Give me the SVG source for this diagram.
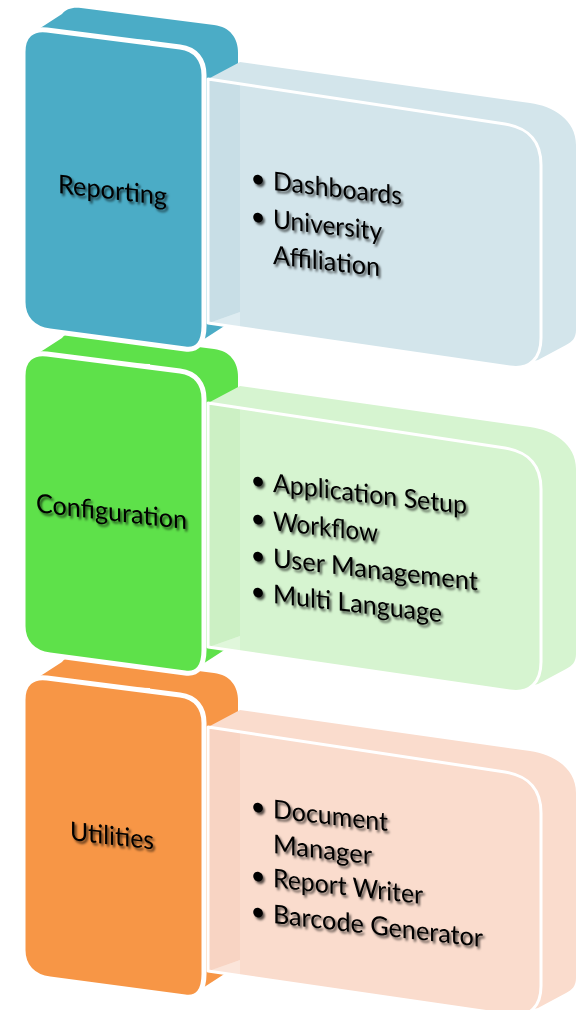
<svg xmlns="http://www.w3.org/2000/svg" xmlns:xlink="http://www.w3.org/1999/xlink" width="587" height="1010" viewBox="0 0 587 1010">
<style>
.t{font-family:Lato,"Liberation Sans",sans-serif;font-size:26px;fill:#000;}
.b{font-family:Lato,"Liberation Sans",sans-serif;font-size:26px;fill:#000;text-anchor:middle;}
.front{stroke:#fff;stroke-width:5;stroke-linejoin:round;}
.rf{stroke:#fff;stroke-width:3;stroke-linejoin:round;}
</style>
<defs>
<filter id="sh" x="-10%" y="-30%" width="130%" height="180%">
<feDropShadow dx="2" dy="2.5" stdDeviation="1.3" flood-color="#000" flood-opacity="0.65"/>
</filter>
<path id="lsil" d="M28,36 L62,14 C66,9 72,7 81,8 L214,25 C230,27 238,38 238,53 L238,304 C238,314 235,320 229,323 L195,345 L150,340 L150,40 Z"/>
<path id="lfront" d="M23,52 C23,36 32,28 47,30 L180,47 C196,49 204,60 204,75 L204,326 C204,342 198,351 185,349 L50,331 C33,329 23,318 23,302 Z"/>
<path id="rsil" d="M208,79 L240,62 L530,103 C553,106 576,120 576,145 L576,330 C576,338 572,342 566,345 L538,360 L510,367 L208,323 Z"/>
<path id="rfront" d="M208,79 L505,124 C528,128 541,140 541,165 L541,338 C541,358 530,370 510,367 L208,323 Z"/>
<path id="rstrip" d="M209,80 L240,84 L240,312 L209,323 Z"/>
<path id="rtri" d="M209,323 L240,312 L240,327 Z"/>
</defs>
<rect width="587" height="1010" fill="#fff"/>
<g id="connectors"/>

<!-- Row 3: Utilities -->
<g id="utilities" transform="translate(0,648)">
<use xlink:href="#lsil" fill="#F79646"/>
</g>
<g id="utilities-details" transform="translate(0,648)">
<use xlink:href="#rsil" fill="#FADCCD"/>
<use xlink:href="#rfront" fill="#FADCCD"/>
<use xlink:href="#rstrip" fill="#F8D4C3"/>
<use xlink:href="#rtri" fill="#FBE5DA"/>
<use xlink:href="#rfront" class="rf" fill="none"/>
</g>
<g id="utilities-front">
<use xlink:href="#lfront" class="front" fill="#F79646" transform="translate(0,648)"/>
<g filter="url(#sh)">
<text class="t" transform="translate(70,840) skewY(6.5)" textLength="84" lengthAdjust="spacingAndGlyphs">Utilities</text>
</g>
</g>
<g id="utilities-items" filter="url(#sh)">
<g transform="translate(273,818) skewY(6.5)"><text class="b" x="-15" y="-1">•</text><text class="t" textLength="115" lengthAdjust="spacingAndGlyphs">Document</text></g>
<g transform="translate(273,853) skewY(6.5)"><text class="t" textLength="99" lengthAdjust="spacingAndGlyphs">Manager</text></g>
<g transform="translate(273,887) skewY(6.5)"><text class="b" x="-15" y="-1">•</text><text class="t" textLength="150" lengthAdjust="spacingAndGlyphs">Report Writer</text></g>
<g transform="translate(273,923) skewY(6.5)"><text class="b" x="-15" y="-1">•</text><text class="t" textLength="210" lengthAdjust="spacingAndGlyphs">Barcode Generator</text></g>
</g>

<!-- Row 2: Configuration -->
<g id="configuration" transform="translate(0,324)">
<use xlink:href="#lsil" fill="#5EE14A"/>
</g>
<g id="configuration-details" transform="translate(0,324)">
<use xlink:href="#rsil" fill="#D6F4D0"/>
<use xlink:href="#rfront" fill="#D6F4D0"/>
<use xlink:href="#rstrip" fill="#CCF0C4"/>
<use xlink:href="#rtri" fill="#E0F7DB"/>
<use xlink:href="#rfront" class="rf" fill="none"/>
</g>
<g id="configuration-front">
<use xlink:href="#lfront" class="front" fill="#5EE14A" transform="translate(0,324)"/>
<g filter="url(#sh)">
<text class="t" transform="translate(36,512) skewY(6.5)" textLength="151" lengthAdjust="spacingAndGlyphs">Configuration</text>
</g>
</g>
<g id="configuration-items" filter="url(#sh)">
<g transform="translate(273,492) skewY(6.5)"><text class="b" x="-15" y="-1">•</text><text class="t" textLength="194" lengthAdjust="spacingAndGlyphs">Application Setup</text></g>
<g transform="translate(273,530) skewY(6.5)"><text class="b" x="-15" y="-1">•</text><text class="t" textLength="105" lengthAdjust="spacingAndGlyphs">Workflow</text></g>
<g transform="translate(273,567) skewY(6.5)"><text class="b" x="-15" y="-1">•</text><text class="t" textLength="205" lengthAdjust="spacingAndGlyphs">User Management</text></g>
<g transform="translate(273,603) skewY(6.5)"><text class="b" x="-15" y="-1">•</text><text class="t" textLength="169" lengthAdjust="spacingAndGlyphs">Multi Language</text></g>
</g>

<!-- Row 1: Reporting -->
<g id="reporting">
<use xlink:href="#lsil" fill="#4BACC6"/>
</g>
<g id="reporting-details">
<use xlink:href="#rsil" fill="#D3E5EB"/>
<use xlink:href="#rfront" fill="#D3E5EB"/>
<use xlink:href="#rstrip" fill="#C8DEE6"/>
<use xlink:href="#rtri" fill="#DEECF1"/>
<use xlink:href="#rfront" class="rf" fill="none"/>
</g>
<g id="reporting-front">
<use xlink:href="#lfront" class="front" fill="#4BACC6"/>
<g filter="url(#sh)">
<text class="t" transform="translate(58,193) skewY(6.5)" textLength="109" lengthAdjust="spacingAndGlyphs">Reporting</text>
</g>
</g>
<g id="reporting-items" filter="url(#sh)">
<g transform="translate(273,190) skewY(6.5)"><text class="b" x="-15" y="-1">•</text><text class="t" textLength="129" lengthAdjust="spacingAndGlyphs">Dashboards</text></g>
<g transform="translate(273,228) skewY(6.5)"><text class="b" x="-15" y="-1">•</text><text class="t" textLength="109" lengthAdjust="spacingAndGlyphs">University</text></g>
<g transform="translate(273,264) skewY(6.5)"><text class="t" textLength="107" lengthAdjust="spacingAndGlyphs">Affiliation</text></g>
</g>
</svg>
